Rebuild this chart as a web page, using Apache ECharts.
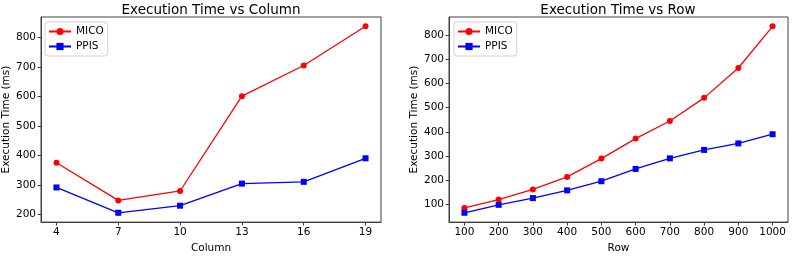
<!DOCTYPE html>
<html>
<head>
<meta charset="utf-8">
<script src="https://cdn.jsdelivr.net/npm/echarts@6/dist/echarts.min.js"></script>
<style>
html,body{margin:0;padding:0;background:#fff;}
#c{width:793px;height:259px;}
</style>
</head>
<body>
<div id="c"></div>
<script>
// ---- data ----
const columns = [4, 7, 10, 13, 16, 19];
const micoByColumn = [375, 247, 279, 601, 705, 838];
const ppisByColumn = [291, 205, 229, 304, 310, 390];

const rows = [100, 200, 300, 400, 500, 600, 700, 800, 900, 1000];
const micoByRow = [84, 119, 161, 213, 289, 372, 445, 541, 665, 838];
const ppisByRow = [64, 97, 125, 157, 195, 246, 290, 325, 352, 390];

const colTicks = [4, 7, 10, 13, 16, 19];
const colYTicks = [200, 300, 400, 500, 600, 700, 800];
const rowTicks = [100, 200, 300, 400, 500, 600, 700, 800, 900, 1000];
const rowYTicks = [100, 200, 300, 400, 500, 600, 700, 800];

const titles = ['Execution Time vs Column', 'Execution Time vs Row'];
const xNames = ['Column', 'Row'];
const yName = 'Execution Time (ms)';
const seriesNames = ['MICO', 'PPIS'];

// ---- helpers ----
function pad(vals) {
  const mn = Math.min(...vals), mx = Math.max(...vals);
  const r = mx - mn;
  return [mn - 0.05 * r, mx + 0.05 * r];
}
const FONT = 'DejaVu Sans';
const FS = 10.5;
const frame = '#404040';
const pairs = (xs, ys) => xs.map((x, i) => [x, ys[i]]);

const cx = pad(columns), cy = pad(micoByColumn.concat(ppisByColumn));
const rx = pad(rows), ry = pad(micoByRow.concat(ppisByRow));

function xAxis(grid, rng, ticks, name) {
  return {
    type: 'value', gridIndex: grid, min: rng[0], max: rng[1],
    name: name, nameLocation: 'middle', nameGap: 20,
    nameTextStyle: {fontFamily: FONT, fontSize: FS, color: '#000'},
    axisLine: {show: true, lineStyle: {color: frame, width: 1}},
    axisTick: {show: true, customValues: ticks, length: 3.5, lineStyle: {color: frame}},
    axisLabel: {customValues: ticks, formatter: v => String(v), fontFamily: FONT, fontSize: FS, color: '#000', margin: 5},
    splitLine: {show: false}
  };
}
function yAxis(grid, rng, ticks, gap) {
  return {
    type: 'value', gridIndex: grid, min: rng[0], max: rng[1],
    name: yName, nameLocation: 'middle', nameGap: gap, nameRotate: 90,
    nameTextStyle: {fontFamily: FONT, fontSize: FS, color: '#000'},
    axisLine: {show: true, lineStyle: {color: frame, width: 1}},
    axisTick: {show: true, customValues: ticks, length: 3.5, lineStyle: {color: frame}},
    axisLabel: {customValues: ticks, formatter: v => String(v), fontFamily: FONT, fontSize: FS, color: '#000', margin: 5},
    splitLine: {show: false}
  };
}
function line(name, grid, data, color, symbol) {
  return {
    name: name, type: 'line', xAxisIndex: grid, yAxisIndex: grid,
    data: data, symbol: symbol, symbolSize: 6, showSymbol: true,
    lineStyle: {color: color, width: 1.3},
    itemStyle: {color: color},
    emphasis: {disabled: true}, animation: false
  };
}
function legend(left) {
  return {
    data: seriesNames.map(n => ({name: n})), orient: 'vertical',
    left: left, top: 22, itemWidth: 22, itemHeight: 9, itemGap: 4,
    padding: [4, 4, 4, 3], backgroundColor: '#fff',
    borderColor: '#d0d0d0', borderWidth: 1, borderRadius: 3,
    textStyle: {fontFamily: FONT, fontSize: FS, color: '#000'}
  };
}

const chart = echarts.init(document.getElementById('c'), null, {renderer: 'canvas'});
chart.setOption({
  animation: false,
  backgroundColor: '#fff',
  title: [
    {text: titles[0], left: 211, top: 3, padding: 0, textAlign: 'center',
     textStyle: {fontFamily: FONT, fontSize: 13.5, fontWeight: 'normal', color: '#000'}},
    {text: titles[1], left: 618, top: 3, padding: 0, textAlign: 'center',
     textStyle: {fontFamily: FONT, fontSize: 13.5, fontWeight: 'normal', color: '#000'}}
  ],
  grid: [
    {left: 41, right: 412, top: 17, bottom: 32, show: true, borderColor: frame, borderWidth: 1},
    {left: 449, right: 5, top: 17, bottom: 32, show: true, borderColor: frame, borderWidth: 1}
  ],
  xAxis: [xAxis(0, cx, colTicks, xNames[0]), xAxis(1, rx, rowTicks, xNames[1])],
  yAxis: [yAxis(0, cy, colYTicks, 29), yAxis(1, ry, rowYTicks, 29)],
  legend: [legend(45), legend(454)],
  series: [
    line('MICO', 0, pairs(columns, micoByColumn), '#ff0000', 'circle'),
    line('PPIS', 0, pairs(columns, ppisByColumn), '#0000ff', 'rect'),
    line('MICO', 1, pairs(rows, micoByRow), '#ff0000', 'circle'),
    line('PPIS', 1, pairs(rows, ppisByRow), '#0000ff', 'rect')
  ]
});
</script>
</body>
</html>
